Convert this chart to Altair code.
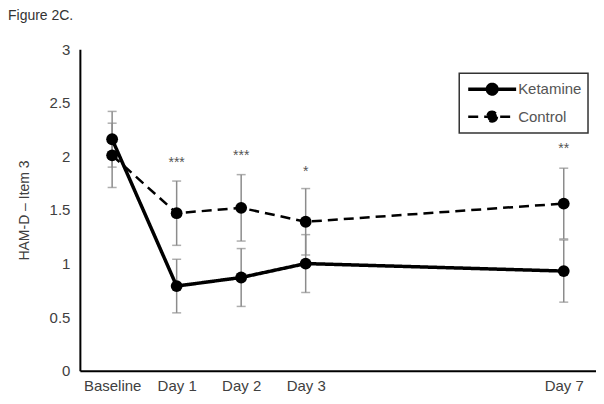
import altair as alt
import pandas as pd

days = [0, 1, 2, 3, 7]
groups = ["Ketamine", "Control"]
ketamine = [2.16, 0.79, 0.87, 1.00, 0.93]
ketamine_err = [0.26, 0.25, 0.27, 0.27, 0.29]
control = [2.01, 1.47, 1.52, 1.39, 1.56]
control_err = [0.30, 0.30, 0.31, 0.31, 0.33]
star_days = [1, 2, 3, 7]
star_y = [1.98, 2.04, 1.89, 2.11]
stars = ["***", "***", "*", "**"]
y_ticks = [0, 0.5, 1, 1.5, 2, 2.5, 3]

rows = []
for g, vals, errs in [("Ketamine", ketamine, ketamine_err), ("Control", control, control_err)]:
    for d, v, e in zip(days, vals, errs):
        rows.append({"day": d, "group": g, "value": v, "lo": v - e, "hi": v + e})
df = pd.DataFrame(rows)
star_df = pd.DataFrame({"day": star_days, "y": star_y, "label": stars})

FONT = "Liberation Sans"
GRAY = "#8c8c8c"

xscale = alt.Scale(domain=[-0.5, 7.5], nice=False, zero=False)
yscale = alt.Scale(domain=[0, 3], nice=False)

x_axis = alt.Axis(values=days, labelExpr="datum.value == 0 ? 'Baseline' : 'Day ' + datum.value",
                  title=None, grid=False, ticks=False, domainColor="black", domainWidth=2,
                  labelFont=FONT, labelFontSize=15, labelColor="#404040", labelPadding=8)
y_axis = alt.Axis(values=y_ticks, format="~g", title="HAM-D \u2013 Item 3", grid=False, ticks=False,
                  domainColor="black", domainWidth=2, labelFont=FONT, labelFontSize=15,
                  labelColor="#404040", labelPadding=10, titleFont=FONT, titleFontSize=14,
                  titleFontWeight="normal", titleColor="#404040", titlePadding=18)

X = alt.X("day:Q", scale=xscale, axis=x_axis)

sym = ("M-3.0,0L3.0,0M0.6,0A0.6,0.6,0,1,1,-0.6,0"
       "A0.6,0.6,0,1,1,0.6,0Z")
legend = alt.Legend(title=None, orient="none", legendX=380, legendY=24, direction="vertical",
                    symbolType=sym, symbolSize=256, symbolFillColor="black",
                    symbolStrokeColor="black", symbolStrokeWidth=2.5, symbolOffset=17,
                    labelOffset=16, labelFont=FONT, labelFontSize=15, labelColor="#555555",
                    rowPadding=5, padding=6, strokeColor="#333333")

base = alt.Chart(df)
err_rule = base.mark_rule(color=GRAY, strokeWidth=1.5).encode(
    x=X, y=alt.Y("lo:Q", scale=yscale, axis=y_axis), y2="hi:Q")
cap_lo = base.mark_tick(color=GRAY, orient="horizontal", size=9, thickness=1.5).encode(
    x=X, y=alt.Y("lo:Q", scale=yscale))
cap_hi = base.mark_tick(color=GRAY, orient="horizontal", size=9, thickness=1.5).encode(
    x=X, y=alt.Y("hi:Q", scale=yscale))
line = base.mark_line(color="black").encode(
    x=X, y=alt.Y("value:Q", scale=yscale),
    strokeDash=alt.StrokeDash("group:N", scale=alt.Scale(domain=groups, range=[[1, 0], [10, 6]]),
                              legend=legend),
    strokeWidth=alt.StrokeWidth("group:N", scale=alt.Scale(domain=groups, range=[3.5, 2.5]), legend=None))
pts = base.mark_point(filled=True, color="black", opacity=1, size=140).encode(
    x=X, y=alt.Y("value:Q", scale=yscale), detail="group:N")
star_txt = alt.Chart(star_df).mark_text(font=FONT, fontSize=14, color="#555555", baseline="middle", dy=4).encode(
    x=X, y=alt.Y("y:Q", scale=yscale), text="label:N")

chart = alt.layer(err_rule, cap_lo, cap_hi, line, pts, star_txt).properties(
    width=517, height=322,
    title=alt.Title("Figure 2C.", anchor="start", frame="group", dx=-72, offset=19,
                    font=FONT, fontSize=14, fontWeight="normal", color="#333333"),
    autosize=alt.AutoSizeParams(type="none"),
    padding={"left": 72, "top": 41, "right": 0, "bottom": 25},
).configure_view(stroke=None).configure_legend(strokeWidth=1.5)

chart.save("out.html", embed_options={"renderer": "svg", "actions": False})
